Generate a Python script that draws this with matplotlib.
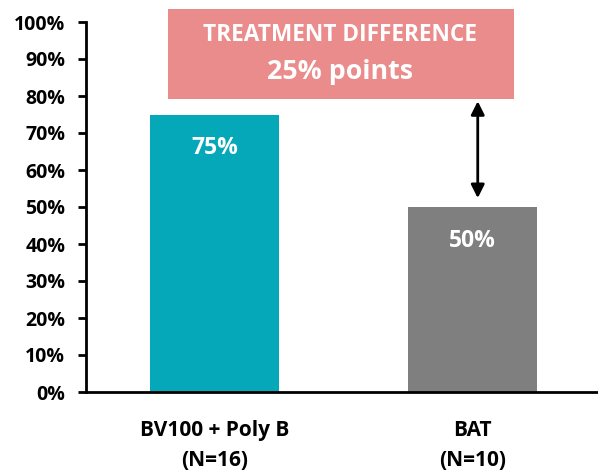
import matplotlib
matplotlib.use("Agg")
import matplotlib.pyplot as plt
from matplotlib.patches import Rectangle

categories = ["BV100 + Poly B\n(N=16)", "BAT\n(N=10)"]
values = [75, 50]
bar_labels = ["75%", "50%"]
colors = ["#05A8B8", "#7F7F7F"]
yticks = [0, 10, 20, 30, 40, 50, 60, 70, 80, 90, 100]
box_title = "TREATMENT DIFFERENCE"
box_value = "25% points"

plt.rcParams['font.family'] = ['Open Sans', 'DejaVu Sans']
plt.rcParams['font.weight'] = 'bold'

fig = plt.figure(figsize=(5.98, 4.72), dpi=100)
ax = fig.add_axes([86/598, 1-392/472, 1-86/598, (392-22)/472])

x = list(range(len(categories)))
bars = ax.bar(x, values, width=0.5, color=colors, zorder=2)
for xi, v, lab in zip(x, values, bar_labels):
    ax.text(xi, v - 9.1, lab, ha='center', va='center', color='white',
            fontsize=16.5, fontweight='bold')

ax.set_xlim(-0.498, 1.486)
ax.set_ylim(0, 100)
ax.set_yticks(yticks)
ax.set_yticklabels([f"{t}%" for t in yticks], fontsize=14, fontweight='bold')
ax.set_xticks(x)
ax.set_xticklabels(categories, fontsize=15, fontweight='bold', linespacing=1.55)
ax.tick_params(axis='y', length=6, width=2, pad=9)
ax.tick_params(axis='x', length=0, pad=20)
for s in ['top', 'right']:
    ax.spines[s].set_visible(False)
for s in ['left', 'bottom']:
    ax.spines[s].set_linewidth(2)

# treatment difference box
rect = Rectangle((-0.181, 79.2), 1.342, 24.4, facecolor='#EA8B8C',
                 edgecolor='none', clip_on=False, zorder=3)
ax.add_patch(rect)
ax.text(0.487, 96.5, box_title, ha='center', va='center', color='white',
        fontsize=16.3, fontweight='bold', zorder=4, clip_on=False)
ax.text(0.487, 86.6, box_value, ha='center', va='center', color='white',
        fontsize=19.3, fontweight='bold', zorder=4)

ax.annotate('', xy=(1.02, 78.6), xytext=(1.02, 52.4),
            arrowprops=dict(arrowstyle='<|-|>', color='black', lw=2,
                            mutation_scale=20, shrinkA=0, shrinkB=0))

fig.savefig("out.png", dpi=100)
